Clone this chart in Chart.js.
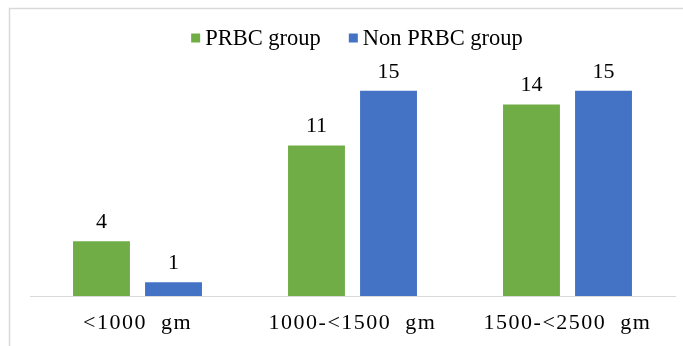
<!DOCTYPE html>
<html>
<head>
<meta charset="utf-8">
<script src="https://cdn.jsdelivr.net/npm/chart.js@4/dist/chart.umd.min.js"></script>
<style>
html,body{margin:0;padding:0;background:#fff;}
#wrap{width:683px;height:346px;position:relative;}
</style>
</head>
<body>
<div id="wrap"><canvas id="c" width="683" height="346"></canvas></div>
<script>
const categories = ["<1000  gm", "1000-<1500  gm", "1500-<2500  gm"];
const prbcGroup = [4, 11, 14];
const nonPrbcGroup = [1, 15, 15];
const seriesNames = ["PRBC group", "Non PRBC group"];
const seriesColors = ["#70AD47", "#4472C4"];

const FONT = "'Liberation Serif', 'Times New Roman', serif";

const framePlugin = {
  id: 'frame',
  beforeDraw(chart) {
    const ctx = chart.ctx;
    ctx.save();
    ctx.fillStyle = '#fff';
    ctx.fillRect(0, 0, chart.width, chart.height);
    ctx.strokeStyle = '#d9d9d9';
    ctx.lineWidth = 1.5;
    ctx.strokeRect(9.5, 8.5, 800, 500);
    ctx.restore();
    ctx.letterSpacing = '1.5px';
  },
  beforeDatasetsDraw(chart) {
    chart.ctx.letterSpacing = '0px';
  }
};

const customLegend = {
  id: 'customLegend',
  afterDraw(chart) {
    const ctx = chart.ctx;
    ctx.save();
    ctx.letterSpacing = '0px';
    ctx.font = "22.5px " + FONT;
    ctx.textBaseline = 'middle';
    ctx.textAlign = 'left';
    const box = 9, gapText = 5, gapItem = 28;
    const items = chart.data.datasets.map(ds => ({ label: ds.label, color: ds.backgroundColor, w: ctx.measureText(ds.label).width }));
    let total = 0;
    items.forEach((it, i) => { total += box + gapText + it.w + (i < items.length - 1 ? gapItem : 0); });
    const ca = chart.chartArea;
    let x = (ca.left + ca.right) / 2 + 4.5 - total / 2;
    const y = 38;
    items.forEach(it => {
      ctx.fillStyle = it.color;
      ctx.fillRect(x, y - box / 2, box, box);
      x += box + gapText;
      ctx.fillStyle = '#000';
      ctx.fillText(it.label, x, y + 1);
      x += it.w + gapItem;
    });
    ctx.restore();
  }
};

const valueLabels = {
  id: 'valueLabels',
  afterDatasetsDraw(chart) {
    const ctx = chart.ctx;
    ctx.save();
    ctx.letterSpacing = '0px';
    ctx.font = "22px " + FONT;
    ctx.fillStyle = '#000';
    ctx.textAlign = 'center';
    ctx.textBaseline = 'alphabetic';
    chart.data.datasets.forEach((ds, i) => {
      const meta = chart.getDatasetMeta(i);
      meta.data.forEach((bar, j) => {
        ctx.fillText(String(ds.data[j]), bar.x, bar.y - 13);
      });
    });
    ctx.restore();
  }
};

new Chart(document.getElementById('c'), {
  type: 'bar',
  data: {
    labels: categories,
    datasets: [
      { label: seriesNames[0], data: prbcGroup, backgroundColor: seriesColors[0], categoryPercentage: 0.67, barPercentage: 0.79 },
      { label: seriesNames[1], data: nonPrbcGroup, backgroundColor: seriesColors[1], categoryPercentage: 0.67, barPercentage: 0.79 }
    ]
  },
  options: {
    responsive: false,
    animation: false,
    devicePixelRatio: 1,
    layout: { padding: { top: 77, left: 30, right: 8, bottom: 0 } },
    plugins: {
      legend: { display: false },
      tooltip: { enabled: false }
    },
    scales: {
      x: {
        grid: { display: false, drawTicks: false },
        border: { display: true, color: '#d9d9d9', width: 1 },
        ticks: { color: '#000', padding: 14.5, font: { family: FONT, size: 22 } },
        afterFit(scale) { scale.height = 50; }
      },
      y: {
        display: false,
        min: 0,
        max: 16
      }
    }
  },
  plugins: [framePlugin, customLegend, valueLabels]
});
</script>
</body>
</html>
